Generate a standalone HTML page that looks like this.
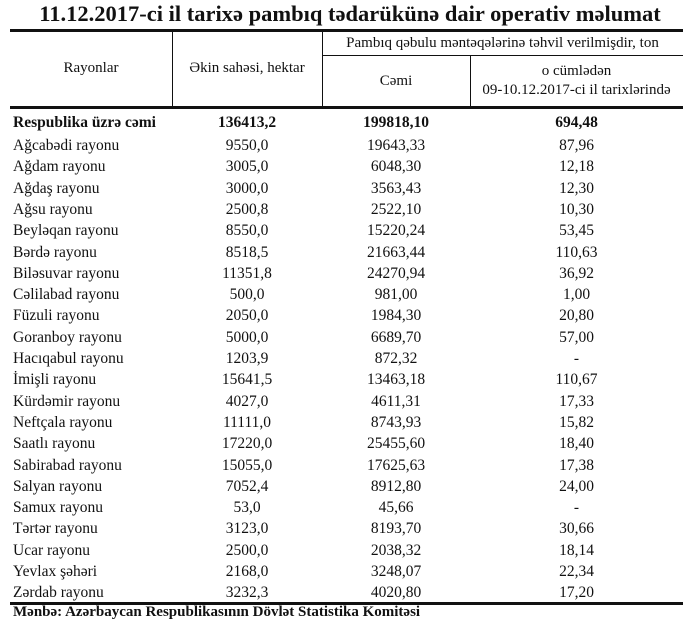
<!DOCTYPE html>
<html><head><meta charset="utf-8"><style>
body{margin:0;width:700px;height:627px;background:#fff;font-family:"Liberation Serif",serif;color:#111;position:relative;overflow:hidden}
.a{position:absolute;white-space:nowrap}
.t{font-weight:bold;font-size:22.5px;left:0;width:700px;text-align:center;top:1px}
.h{position:absolute;background:#111}
.r{position:absolute;left:0;width:700px;height:21px;font-size:15.5px;line-height:21px}
.r span{position:absolute;white-space:nowrap}
.c1{left:13px}
.c2{left:172px;width:150px;text-align:center}
.c3{left:322px;width:148px;text-align:center}
.c4{left:470px;width:213px;text-align:center}
.hd{font-size:15px;text-align:center;line-height:19px}
</style></head><body>
<div class="a t">11.12.2017-ci il tarixə pambıq tədarükünə dair operativ məlumat</div>
<div class="h" style="left:10px;top:29px;width:673px;height:3px"></div>
<div class="h" style="left:172px;top:31px;width:1px;height:76px"></div>
<div class="h" style="left:322px;top:31px;width:1px;height:76px"></div>
<div class="h" style="left:470px;top:55px;width:1px;height:52px"></div>
<div class="h" style="left:322px;top:55px;width:361px;height:1px"></div>
<div class="h" style="left:10px;top:106px;width:673px;height:3px"></div>
<div class="a hd" style="left:10px;width:162px;top:59px">Rayonlar</div>
<div class="a hd" style="left:172px;width:150px;top:59px">Əkin sahəsi, hektar</div>
<div class="a hd" style="left:322px;width:361px;top:34px">Pambıq qəbulu məntəqələrinə təhvil verilmişdir, ton</div>
<div class="a hd" style="left:322px;width:148px;top:72px">Cəmi</div>
<div class="a hd" style="left:470px;width:213px;top:62px">o cümlədən<br>09-10.12.2017-ci il tarixlərində</div>
<div class="r" style="top:112px;font-weight:bold"><span class="c1">Respublika üzrə cəmi</span><span class="c2">136413,2</span><span class="c3">199818,10</span><span class="c4">694,48</span></div>
<div class="h" style="left:10px;top:602px;width:673px;height:3px"></div>
<div class="a" style="left:13px;top:604px;font-size:15px;font-weight:bold">Mənbə: Azərbaycan Respublikasının Dövlət Statistika Komitəsi</div>
<div class="r" style="top:135px"><span class="c1">Ağcabədi rayonu</span><span class="c2">9550,0</span><span class="c3">19643,33</span><span class="c4">87,96</span></div>
<div class="r" style="top:156.3px"><span class="c1">Ağdam rayonu</span><span class="c2">3005,0</span><span class="c3">6048,30</span><span class="c4">12,18</span></div>
<div class="r" style="top:177.6px"><span class="c1">Ağdaş rayonu</span><span class="c2">3000,0</span><span class="c3">3563,43</span><span class="c4">12,30</span></div>
<div class="r" style="top:198.9px"><span class="c1">Ağsu rayonu</span><span class="c2">2500,8</span><span class="c3">2522,10</span><span class="c4">10,30</span></div>
<div class="r" style="top:220.2px"><span class="c1">Beyləqan rayonu</span><span class="c2">8550,0</span><span class="c3">15220,24</span><span class="c4">53,45</span></div>
<div class="r" style="top:241.5px"><span class="c1">Bərdə rayonu</span><span class="c2">8518,5</span><span class="c3">21663,44</span><span class="c4">110,63</span></div>
<div class="r" style="top:262.8px"><span class="c1">Biləsuvar rayonu</span><span class="c2">11351,8</span><span class="c3">24270,94</span><span class="c4">36,92</span></div>
<div class="r" style="top:284.1px"><span class="c1">Cəlilabad rayonu</span><span class="c2">500,0</span><span class="c3">981,00</span><span class="c4">1,00</span></div>
<div class="r" style="top:305.4px"><span class="c1">Füzuli rayonu</span><span class="c2">2050,0</span><span class="c3">1984,30</span><span class="c4">20,80</span></div>
<div class="r" style="top:326.7px"><span class="c1">Goranboy rayonu</span><span class="c2">5000,0</span><span class="c3">6689,70</span><span class="c4">57,00</span></div>
<div class="r" style="top:348px"><span class="c1">Hacıqabul rayonu</span><span class="c2">1203,9</span><span class="c3">872,32</span><span class="c4">-</span></div>
<div class="r" style="top:369.3px"><span class="c1">İmişli rayonu</span><span class="c2">15641,5</span><span class="c3">13463,18</span><span class="c4">110,67</span></div>
<div class="r" style="top:390.6px"><span class="c1">Kürdəmir rayonu</span><span class="c2">4027,0</span><span class="c3">4611,31</span><span class="c4">17,33</span></div>
<div class="r" style="top:411.9px"><span class="c1">Neftçala rayonu</span><span class="c2">11111,0</span><span class="c3">8743,93</span><span class="c4">15,82</span></div>
<div class="r" style="top:433.2px"><span class="c1">Saatlı rayonu</span><span class="c2">17220,0</span><span class="c3">25455,60</span><span class="c4">18,40</span></div>
<div class="r" style="top:454.5px"><span class="c1">Sabirabad rayonu</span><span class="c2">15055,0</span><span class="c3">17625,63</span><span class="c4">17,38</span></div>
<div class="r" style="top:475.8px"><span class="c1">Salyan rayonu</span><span class="c2">7052,4</span><span class="c3">8912,80</span><span class="c4">24,00</span></div>
<div class="r" style="top:497.1px"><span class="c1">Samux rayonu</span><span class="c2">53,0</span><span class="c3">45,66</span><span class="c4">-</span></div>
<div class="r" style="top:518.4px"><span class="c1">Tərtər rayonu</span><span class="c2">3123,0</span><span class="c3">8193,70</span><span class="c4">30,66</span></div>
<div class="r" style="top:539.7px"><span class="c1">Ucar rayonu</span><span class="c2">2500,0</span><span class="c3">2038,32</span><span class="c4">18,14</span></div>
<div class="r" style="top:561px"><span class="c1">Yevlax şəhəri</span><span class="c2">2168,0</span><span class="c3">3248,07</span><span class="c4">22,34</span></div>
<div class="r" style="top:582.3px"><span class="c1">Zərdab rayonu</span><span class="c2">3232,3</span><span class="c3">4020,80</span><span class="c4">17,20</span></div>
</body></html>
